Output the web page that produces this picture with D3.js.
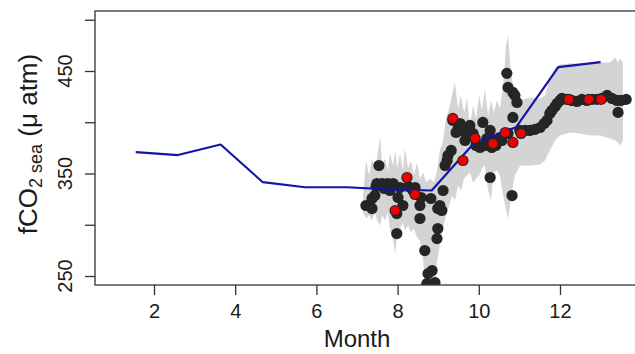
<!DOCTYPE html>
<html>
<head>
<meta charset="utf-8">
<script src="https://cdn.jsdelivr.net/npm/d3@7"></script>
<style>
  body { margin: 0; background: #fff; }
  text { font-family: "Liberation Sans", Arial, sans-serif; fill: #1a1a1a; }
</style>
</head>
<body>
<div id="chart"></div>
<script>
// monthly mean (blue line)
const lineMonth = [1.55, 2.59, 3.64, 4.68, 5.72, 6.75, 7.79, 8.84, 9.88, 10.92, 11.96, 13.0]
const lineValue = [370.8, 368, 378.3, 341.5, 336.6, 336.6, 334.5, 333.4, 379.5, 395.2, 453.7, 458.6]

// daily observations (black dots)
const dotMonth = [7.22, 7.30, 7.37, 7.37, 7.44, 7.47, 7.49, 7.54, 7.62, 7.67, 7.71, 7.76, 7.81, 7.89, 7.98, 7.98, 8.01, 8.06, 8.13, 8.26, 8.38,
  8.43, 8.55, 8.58, 8.55, 8.67, 8.82, 8.75, 8.85, 8.72, 8.92, 8.97, 8.99, 8.99, 9.09, 9.12, 9.04,
  9.17, 9.24, 9.32, 9.22, 9.36, 9.44, 9.49, 9.54, 9.61, 9.66, 9.71, 9.78, 9.86, 9.93, 10.03, 10.10, 10.15, 10.20, 10.28, 10.32, 10.35,
  10.28, 10.42, 10.47, 10.52, 10.57, 10.69, 10.72, 10.84, 10.89, 10.94, 10.84, 10.82, 10.72,
  11.01, 11.14, 11.26, 11.38, 11.51, 11.61, 11.68, 11.75, 11.80, 11.88, 11.93, 12.00, 12.05,
  12.17, 12.29, 12.42, 12.54, 12.66, 12.79, 12.91, 13.03, 13.16, 13.28, 13.40, 13.50, 13.43, 13.63]
const dotValue = [318.8, 318.8, 315.8, 325.6, 328.5, 337.3, 340.2, 357.8, 340.2, 335.4, 339.3, 340.2, 333.4, 340.2, 310.9, 291.4, 326.6, 336.3, 318.8, 337.3, 333.4,
  336.3, 318.8, 326.6, 306.1, 274.8, 325.6, 252.3, 255.3, 242.6, 243.6, 286.5, 296.3, 315.8, 313.9, 333.4, 318.8,
  357.8, 367.6, 372.5, 362.7, 401.8, 390.0, 393.9, 398.8, 392.0, 382.2, 385.2, 396.9, 389.0, 377.3, 375.4, 399.8, 377.3, 384.1, 392.0, 375.4, 382.2,
  346.1, 377.3, 382.2, 385.1, 382.2, 447.7, 434.0, 429.1, 426.2, 419.3, 404.7, 328.5, 389.1,
  392.0, 392.0, 392.0, 393.0, 394.9, 398.8, 401.8, 408.6, 411.5, 415.4, 418.4, 421.3, 423.2,
  422.3, 421.3, 420.3, 422.3, 421.3, 422.3, 422.3, 423.2, 426.2, 423.2, 421.3, 421.3, 409.6, 422.3]

// discrete samples (red dots)
const redMonth = [7.94, 8.23, 8.43, 9.36, 9.61, 9.91, 10.35, 10.65, 10.84, 11.04, 12.22, 12.71, 13.01]
const redValue = [313.9, 346.1, 329.5, 403.7, 362.7, 384.2, 379.3, 390.0, 380.3, 389.1, 422.3, 422.3, 422.3]

// range of daily values (grey band)
const bandMonth = [7.15, 7.22, 7.30, 7.37, 7.44, 7.52, 7.57, 7.62, 7.69, 7.76, 7.81, 7.89, 7.94, 7.99,
  8.06, 8.13, 8.18, 8.26, 8.33, 8.40, 8.48, 8.55, 8.63, 8.70, 8.80, 8.90, 8.97,
  9.04, 9.12, 9.19, 9.27, 9.34, 9.41, 9.49, 9.56, 9.64, 9.71, 9.78, 9.86, 9.93,
  10.01, 10.08, 10.15, 10.23, 10.30, 10.37, 10.45, 10.52, 10.60, 10.67, 10.72, 10.77, 10.82, 10.89,
  11.02, 11.26, 11.51, 11.63, 11.75, 11.88, 12.00, 12.25, 12.49, 12.74, 12.99, 13.23, 13.36, 13.43, 13.48, 13.55]
const bandHi = [328.5, 362.7, 348.0, 364.6, 352.9, 372.4, 387.1, 357.8, 364.6, 352.9, 370.5, 357.8, 372.4, 354.9,
  369.5, 352.9, 374.4, 354.9, 362.7, 348.0, 360.7, 345.1, 351.0, 341.2, 345.1, 341.2, 352.9,
  372.4, 382.2, 403.7, 413.4, 426.1, 438.8, 413.4, 426.1, 409.5, 424.1, 396.8, 416.3, 403.7,
  426.1, 411.5, 432.9, 406.6, 421.2, 409.5, 421.2, 413.4, 435.9, 474.9, 484.6, 460.2, 440.7, 426.1,
  421.2, 424.1, 423.2, 426.1, 442.7, 453.4, 456.3, 457.3, 457.3, 457.3, 458.3, 458.3, 463.2, 458.3, 462.2, 458.3]
const bandLo = [312.0, 306.1, 309.0, 304.1, 312.0, 302.2, 299.3, 309.0, 304.1, 312.0, 296.3, 284.6, 272.0, 289.5,
  296.3, 302.2, 294.4, 299.3, 292.4, 296.3, 287.6, 284.6, 265.1, 230.0, 230.0, 230.0, 263.2,
  279.8, 296.3, 309.0, 318.8, 328.5, 323.7, 338.3, 333.4, 345.1, 348.0, 351.0, 341.2, 345.1,
  348.0, 354.9, 357.8, 333.4, 323.7, 351.0, 352.9, 348.0, 328.5, 313.9, 306.1, 318.8, 333.4, 348.0,
  357.8, 357.8, 358.8, 362.7, 372.4, 382.2, 387.1, 390.0, 389.0, 387.1, 387.1, 384.1, 382.2, 380.2, 377.3, 382.2]

const xTicks = [2, 4, 6, 8, 10, 12]
const yTicks = [250, 300, 350, 400, 450, 500]
const yLabelled = [250, 350, 450]

const width = 635
const height = 354
const plot = { left: 95, top: 11, right: 645, bottom: 285 }

const x = d3.scaleLinear()
  .domain([0.5468, 14.094])
  .range([plot.left, plot.right])

const y = d3.scaleLinear()
  .domain([241.22, 508.54])
  .range([plot.bottom, plot.top])

const svg = d3.select("#chart")
  .append("svg")
    .attr("width", width)
    .attr("height", height)

svg.append("rect")
  .attr("width", width)
  .attr("height", height)
  .attr("fill", "#fff")

svg.append("clipPath")
    .attr("id", "clip")
  .append("rect")
    .attr("x", plot.left)
    .attr("y", plot.top)
    .attr("width", plot.right - plot.left)
    .attr("height", plot.bottom - plot.top)

const g = svg.append("g").attr("clip-path", "url(#clip)")

// grey band
const band = bandMonth.map((m, i) => ({ m, hi: bandHi[i], lo: bandLo[i] }))
g.append("path")
  .datum(band)
  .attr("fill", "#d4d4d4")
  .attr("d", d3.area()
    .x(d => x(d.m))
    .y0(d => y(d.lo))
    .y1(d => y(d.hi)))

// black dots
const dots = dotMonth.map((m, i) => ({ m, v: dotValue[i] }))
g.selectAll("circle.obs")
  .data(dots)
  .join("circle")
    .attr("class", "obs")
    .attr("cx", d => x(d.m))
    .attr("cy", d => y(d.v))
    .attr("r", 5.6)
    .attr("fill", "#252525")

// blue monthly line
const line = lineMonth.map((m, i) => ({ m, v: lineValue[i] }))
g.append("path")
  .datum(line)
  .attr("fill", "none")
  .attr("stroke", "#1414a8")
  .attr("stroke-width", 2.2)
  .attr("stroke-linejoin", "round")
  .attr("d", d3.line().x(d => x(d.m)).y(d => y(d.v)))

// red samples
const reds = redMonth.map((m, i) => ({ m, v: redValue[i] }))
g.selectAll("circle.ring")
  .data(reds)
  .join("circle")
    .attr("class", "ring")
    .attr("cx", d => x(d.m))
    .attr("cy", d => y(d.v))
    .attr("r", 5.6)
    .attr("fill", "#252525")
g.selectAll("circle.red")
  .data(reds)
  .join("circle")
    .attr("class", "red")
    .attr("cx", d => x(d.m))
    .attr("cy", d => y(d.v))
    .attr("r", 4.5)
    .attr("fill", "#f00000")

// box
svg.append("rect")
  .attr("x", plot.left)
  .attr("y", plot.top)
  .attr("width", plot.right - plot.left)
  .attr("height", plot.bottom - plot.top)
  .attr("fill", "none")
  .attr("stroke", "#333")
  .attr("stroke-width", 1.3)

// x axis
const xAxis = svg.append("g")
  .attr("transform", `translate(0,${plot.bottom})`)
  .call(d3.axisBottom(x).tickValues(xTicks).tickSize(10).tickPadding(9))
xAxis.select(".domain").remove()
xAxis.selectAll("line").attr("stroke", "#333").attr("stroke-width", 1.3)
xAxis.selectAll("text")
  .attr("fill", "#1a1a1a")
  .style("font-size", "20px")
  .style("font-family", "'Liberation Sans', Arial, sans-serif")

svg.append("text")
  .attr("x", 357)
  .attr("y", 347)
  .attr("text-anchor", "middle")
  .style("font-size", "24px")
  .text("Month")

// y axis
const yAxis = svg.append("g")
  .attr("transform", `translate(${plot.left},0)`)
  .call(d3.axisLeft(y).tickValues(yTicks).tickSize(10).tickFormat(""))
yAxis.select(".domain").remove()
yAxis.selectAll("line").attr("stroke", "#333").attr("stroke-width", 1.3)

svg.selectAll("text.ylab")
  .data(yLabelled)
  .join("text")
    .attr("class", "ylab")
    .attr("transform", d => `translate(72,${y(d)}) rotate(-90)`)
    .attr("text-anchor", "middle")
    .style("font-size", "20px")
    .text(d => d)

const title = svg.append("text")
  .attr("transform", "translate(37,144) rotate(-90)")
  .attr("text-anchor", "middle")
  .style("font-size", "26px")
title.append("tspan").text("fCO")
title.append("tspan").attr("dy", 5).style("font-size", "18px").text("2 sea")
title.append("tspan").attr("dy", -5).text(" (\u03bc atm)")
</script>
</body>
</html>
